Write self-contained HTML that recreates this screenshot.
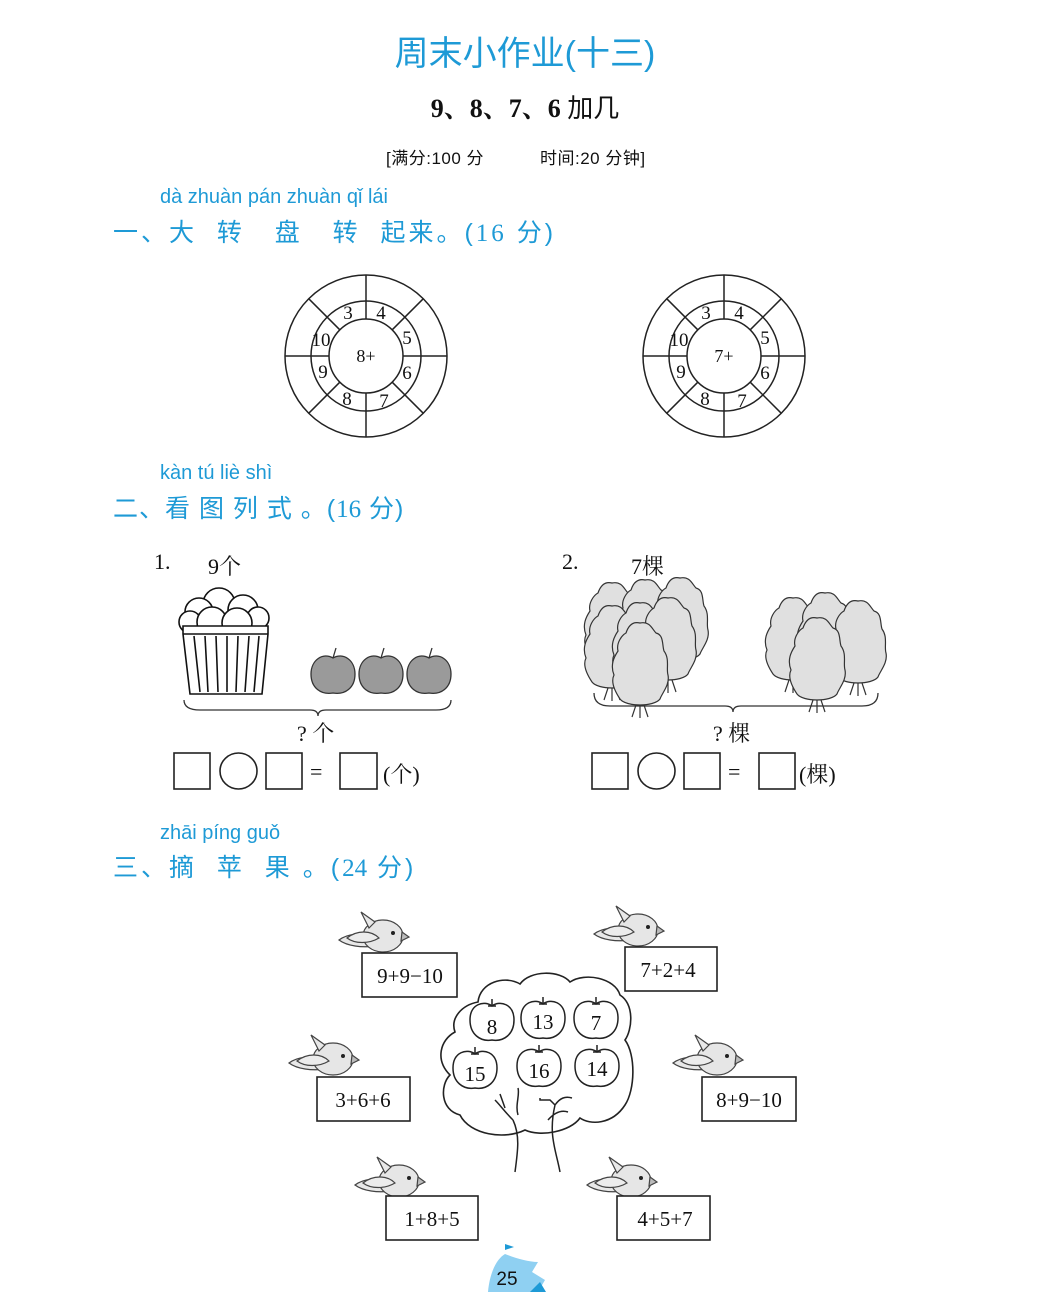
<!DOCTYPE html>
<html><head><meta charset="utf-8"><style>
body{margin:0;background:#fff}
#p{position:relative;width:1050px;height:1292px;overflow:hidden;background:#fff}
.t{position:absolute;white-space:nowrap}
.c{color:#1e9ad6;font-family:"Liberation Sans","Noto Sans CJK SC",sans-serif}
.s{font-family:"Liberation Serif","Noto Serif CJK SC",serif;color:#111}
svg{position:absolute;left:0;top:0}
</style></head><body><div id="p">
<svg width="1050" height="1292" viewBox="0 0 1050 1292" font-family="Liberation Serif, Noto Serif CJK SC, serif">
<defs>
<g id="wheel" fill="none" stroke="#222" stroke-width="1.5">
<circle r="81"/><circle r="55"/><circle r="37"/>
<path d="M37 0L81 0M26.2 26.2L57.3 57.3M0 37L0 81M-26.2 26.2L-57.3 57.3M-37 0L-81 0M-26.2 -26.2L-57.3 -57.3M0 -37L0 -81M26.2 -26.2L57.3 -57.3"/>
<g fill="#111" stroke="none" font-size="19" text-anchor="middle">
<text x="-18" y="-37">3</text><text x="15" y="-37">4</text><text x="41" y="-12">5</text><text x="41" y="23">6</text>
<text x="18" y="51">7</text><text x="-19" y="49">8</text><text x="-43" y="22">9</text><text x="-45" y="-10">10</text>
</g></g>
<g id="bird" stroke="#444" stroke-width="1.2">
<path d="M-38 8 C-30 2,-15 0,-5 4 L-2 14 C-15 16,-30 14,-38 8Z" fill="#e8e8e8"/>
<ellipse cx="6" cy="4" rx="20" ry="16" fill="#e6e6e6"/>
<path d="M-8 -4 L-16 -20 L-2 -10Z" fill="#e8e8e8"/>
<path d="M-30 6 C-20 -2,-6 -2,2 6 C-8 12,-22 12,-30 6Z" fill="#ececec"/>
<path d="M25 0 L32 5 L24 9Z" fill="#bbb"/>
<circle cx="16" cy="1" r="2" fill="#222" stroke="none"/>
</g>
<g id="apple" stroke="#222" stroke-width="1.5" fill="#fff">
<path d="M0 -16 C-8 -22,-22 -18,-22 -2 C-22 12,-12 20,0 18 C12 20,22 12,22 -2 C22 -18,8 -22,0 -16Z"/>
<path d="M0 -16 L0 -23 M-4 -16 L4 -16" fill="none"/>
</g>
<g id="gapple" stroke="#333" stroke-width="1.3">
<path d="M0 -16 C-10 -22,-22 -14,-22 0 C-22 14,-12 21,0 19 C12 21,22 14,22 0 C22 -14,10 -22,0 -16Z" fill="#9a9a9a"/>
<path d="M0 -16 L3 -26" fill="none"/>
</g>
<g id="tree" stroke="#333" stroke-width="1.2" fill="#e0e0e0">
<path d="M-4 40 L-8 52 M4 40 L8 52 M0 40 L0 53" fill="none"/>
<path d="M0 -42 C10 -44,12 -36,16 -32 C24 -30,22 -20,24 -14 C30 -6,26 4,28 10 C30 20,22 28,20 34 C14 42,-14 42,-20 34 C-24 28,-30 18,-26 10 C-30 0,-26 -8,-22 -14 C-24 -22,-18 -30,-14 -32 C-12 -38,-8 -44,0 -42Z"/>
</g>
</defs>
<use href="#wheel" x="366" y="356"/>
<use href="#wheel" x="724" y="356"/>
<g font-size="18" text-anchor="middle" fill="#111"><text x="366" y="362">8+</text><text x="724" y="362">7+</text></g>

<g stroke="#111" stroke-width="1.6" fill="#fff">
<circle cx="219" cy="604" r="16"/><circle cx="243" cy="610" r="15"/><circle cx="199" cy="612" r="14"/>
<circle cx="258" cy="618" r="11"/><circle cx="190" cy="622" r="11"/>
<circle cx="212" cy="622" r="15"/><circle cx="237" cy="623" r="15"/>
<path d="M183 626 L268 626 L268 634 L262 694 L190 694 L183 634 Z"/>
<path d="M183 634 L268 634 M194 636 L200 692 M205 636 L208 692 M216 636 L218 692 M227 636 L227 692 M238 636 L236 692 M249 636 L245 692 M259 636 L254 692" fill="none"/>
</g>
<use href="#gapple" x="333" y="674"/><use href="#gapple" x="381" y="674"/><use href="#gapple" x="429" y="674"/>
<path d="M184 700 Q184 710 200 710 L310 710 Q318 710 318 716 Q318 710 326 710 L436 710 Q451 710 451 700" fill="none" stroke="#333" stroke-width="1.3"/>
<use href="#tree" x="612" y="625"/><use href="#tree" x="645" y="622"/><use href="#tree" x="680" y="620"/>
<use href="#tree" x="612" y="648"/><use href="#tree" x="640" y="645"/><use href="#tree" x="668" y="640"/>
<use href="#tree" x="640" y="665"/>
<use href="#tree" x="793" y="640"/><use href="#tree" x="825" y="635"/><use href="#tree" x="858" y="643"/><use href="#tree" x="817" y="660"/>
<path d="M594 693 Q594 706 610 706 L725 706 Q733 706 733 712 Q733 706 741 706 L862 706 Q878 706 878 693" fill="none" stroke="#333" stroke-width="1.3"/>
<g fill="#fff" stroke="#222" stroke-width="1.6">
<rect x="174" y="753" width="36" height="36"/><ellipse cx="238.5" cy="771" rx="18.5" ry="18"/><rect x="266" y="753" width="36" height="36"/><rect x="340" y="753" width="37" height="36"/>
<rect x="592" y="753" width="36" height="36"/><ellipse cx="656.5" cy="771" rx="18.5" ry="18"/><rect x="684" y="753" width="36" height="36"/><rect x="759" y="753" width="36" height="36"/>
</g>
<g font-size="22" fill="#111"><text x="310" y="779">=</text><text x="728" y="779">=</text></g>

<path d="M515 1172 C518 1150,520 1135,513 1120 M560 1172 C556 1150,548 1135,555 1105 L550 1100 L540 1100 L540 1098 M555 1105 C560 1098,565 1096,572 1098 M548 1120 C555 1112,562 1110,568 1112" fill="none" stroke="#222" stroke-width="1.5"/>
<path d="M513 1120 C505 1112,500 1105,495 1100 M518 1115 C515 1105,520 1095,518 1088 M505 1108 L500 1094" fill="none" stroke="#222" stroke-width="1.5"/>
<path d="M478 1002 C480 982,505 975,520 984 C530 970,560 970,570 982 C585 972,615 978,620 995 C635 1005,632 1030,625 1040 C636 1055,635 1090,625 1105 C612 1125,590 1125,580 1118 C570 1132,540 1137,525 1130 C505 1140,470 1135,460 1115 C440 1110,440 1085,450 1075 C435 1060,440 1040,455 1032 C450 1018,462 1005,478 1002Z" fill="none" stroke="#222" stroke-width="1.6"/>
<use href="#apple" x="492" y="1022"/><use href="#apple" x="543" y="1020"/><use href="#apple" x="596" y="1020"/>
<use href="#apple" x="475" y="1070"/><use href="#apple" x="539" y="1068"/><use href="#apple" x="597" y="1068"/>
<g font-size="21" text-anchor="middle" fill="#111">
<text x="492" y="1034">8</text><text x="543" y="1029">13</text><text x="596" y="1030">7</text>
<text x="475" y="1081">15</text><text x="539" y="1078">16</text><text x="597" y="1076">14</text>
</g>
<use href="#bird" x="377" y="932"/><use href="#bird" x="632" y="926"/><use href="#bird" x="327" y="1055"/>
<use href="#bird" x="711" y="1055"/><use href="#bird" x="393" y="1177"/><use href="#bird" x="625" y="1177"/>
<g fill="#fff" stroke="#222" stroke-width="1.6">
<rect x="362" y="953" width="95" height="44"/><rect x="625" y="947" width="92" height="44"/>
<rect x="317" y="1077" width="93" height="44"/><rect x="702" y="1077" width="94" height="44"/>
<rect x="386" y="1196" width="92" height="44"/><rect x="617" y="1196" width="93" height="44"/>
</g>
<g font-size="21" text-anchor="middle" fill="#111">
<text x="410" y="983">9+9−10</text><text x="668" y="977">7+2+4</text><text x="363" y="1107">3+6+6</text>
<text x="749" y="1107">8+9−10</text><text x="432" y="1226">1+8+5</text><text x="665" y="1226">4+5+7</text>
</g>
<path d="M488 1292 C490 1270,498 1258,505 1254 C515 1258,528 1262,538 1262 L532 1272 L545 1280 L538 1292Z" fill="#8fd0f2"/>
<path d="M505 1254 L505 1244 L514 1247 L505 1250" fill="#1e9ad6"/>
<path d="M530 1292 L540 1282 L546 1292Z" fill="#1e9ad6"/>
<text x="507" y="1285" font-size="19" text-anchor="middle" font-family="Liberation Sans, sans-serif" fill="#111">25</text>
</svg>

<div class="t c" style="left:0;width:1050px;text-align:center;top:26px;font-size:34px">周末小作业(十三)</div>
<div class="t s" style="left:0;width:1050px;text-align:center;top:88px;font-size:26px;font-weight:bold">9、8、7、6 <span style="font-weight:normal;font-family:'Noto Sans CJK SC',sans-serif">加几</span></div>
<div class="t" style="left:386px;top:144px;font-size:17px;font-family:'Liberation Sans','Noto Sans CJK SC',sans-serif;color:#111;letter-spacing:0.5px">[满分:100 分</div>
<div class="t" style="left:540px;top:144px;font-size:17px;font-family:'Liberation Sans','Noto Sans CJK SC',sans-serif;color:#111;letter-spacing:0.5px">时间:20 分钟]</div>

<div class="t c" style="left:160px;top:186px;font-size:20px">dà zhuàn pán zhuàn qǐ lái</div>
<div class="t c" style="left:113px;top:213px;font-size:25px;letter-spacing:3px">一、大&nbsp; 转&nbsp;&nbsp; 盘&nbsp;&nbsp; 转&nbsp; 起来。(<span style="font-family:'Liberation Serif',serif">16</span> 分)</div>

<div class="t c" style="left:160px;top:462px;font-size:20px">kàn tú liè shì</div>
<div class="t c" style="left:113px;top:489px;font-size:25px;letter-spacing:1px">二、看 图 列 式 。(<span style="font-family:'Liberation Serif',serif;letter-spacing:0">16</span> 分)</div>

<div class="t s" style="left:154px;top:549px;font-size:22px">1.</div>
<div class="t s" style="left:208px;top:550px;font-size:22px">9个</div>
<div class="t s" style="left:562px;top:549px;font-size:22px">2.</div>
<div class="t s" style="left:631px;top:550px;font-size:22px">7棵</div>
<div class="t s" style="left:297px;top:717px;font-size:22px">?&nbsp;个</div>
<div class="t s" style="left:713px;top:717px;font-size:22px">?&nbsp;棵</div>
<div class="t s" style="left:383px;top:758px;font-size:22px">(个)</div>
<div class="t s" style="left:799px;top:758px;font-size:22px">(棵)</div>

<div class="t c" style="left:160px;top:822px;font-size:20px">zhāi píng guǒ</div>
<div class="t c" style="left:113px;top:848px;font-size:25px;letter-spacing:3px">三、摘&nbsp; 苹&nbsp; 果 。(<span style="font-family:'Liberation Serif',serif;letter-spacing:0">24</span> 分)</div>
</div></body></html>
